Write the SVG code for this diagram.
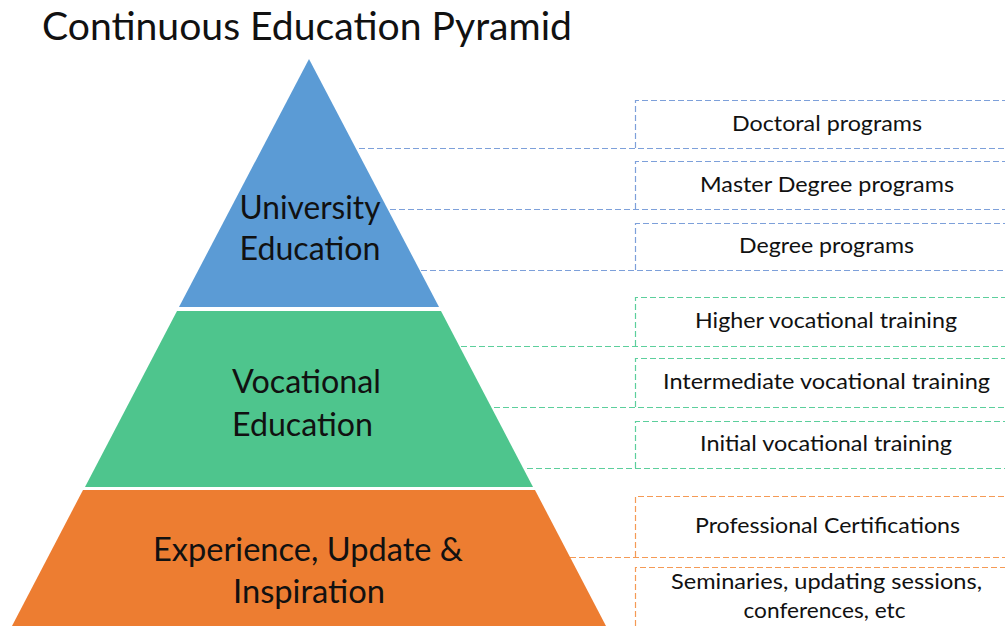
<svg xmlns="http://www.w3.org/2000/svg" width="1005" height="626" viewBox="0 0 1005 626">
<style>
text{font-family:Lato,"Liberation Sans",sans-serif;fill:#111;}
.title{font-size:38px;}
.lvl{font-size:32px;text-anchor:middle;}
.item{font-size:21.5px;text-anchor:middle;}
.d{fill:none;stroke-width:1.2;stroke-dasharray:6 3;}
.db{stroke:#7DA0DA;}
.dg{stroke:#5CCF9C;}
.do{stroke:#F59A55;}
</style>
<rect width="1005" height="626" fill="#fff"/>
<text class="title" x="42" y="40" textLength="530" lengthAdjust="spacingAndGlyphs">Continuous Education Pyramid</text>

<g id="connectors">
  <path class="d db" d="M359 148.5H1005M390 209.5H1005M421 270.5H1005"/>
  <path class="d dg" d="M461 346.5H1005M494 407.5H1005M527 468.5H1005"/>
  <path class="d do" d="M570 557.5H1005"/>
</g>

<g id="level-university">
  <polygon points="309,59 439,307 179,307" fill="#5B9BD5"/>
  <text class="lvl" x="310" y="219" textLength="141" lengthAdjust="spacingAndGlyphs">University</text>
  <text class="lvl" x="310" y="260" textLength="141" lengthAdjust="spacingAndGlyphs">Education</text>
</g>
<g id="level-vocational">
  <polygon points="177,311 441,311 533,487 85,487" fill="#4EC58D"/>
  <text class="lvl" x="306.5" y="393" textLength="149" lengthAdjust="spacingAndGlyphs">Vocational</text>
  <text class="lvl" x="302.5" y="436" textLength="141" lengthAdjust="spacingAndGlyphs">Education</text>
</g>
<g id="level-experience">
  <polygon points="83,490 535,490 606,626 12,626" fill="#ED7D31"/>
  <text class="lvl" x="308" y="561" textLength="310" lengthAdjust="spacingAndGlyphs">Experience, Update &amp;</text>
  <text class="lvl" x="309" y="603" textLength="152" lengthAdjust="spacingAndGlyphs">Inspiration</text>
</g>

<g id="item-doctoral">
  <path class="d db" d="M635.5 148V100.5H1005"/>
  <text class="item" x="827" y="131" textLength="190" lengthAdjust="spacingAndGlyphs">Doctoral programs</text>
</g>
<g id="item-master">
  <path class="d db" d="M635.5 209V161.5H1005"/>
  <text class="item" x="827" y="192" textLength="254" lengthAdjust="spacingAndGlyphs">Master Degree programs</text>
</g>
<g id="item-degree">
  <path class="d db" d="M635.5 270V223.5H1005"/>
  <text class="item" x="826.5" y="253" textLength="175" lengthAdjust="spacingAndGlyphs">Degree programs</text>
</g>
<g id="item-higher">
  <path class="d dg" d="M635.5 346V297.5H1005"/>
  <text class="item" x="826" y="328" textLength="262" lengthAdjust="spacingAndGlyphs">Higher vocational training</text>
</g>
<g id="item-intermediate">
  <path class="d dg" d="M635.5 407V358.5H1005"/>
  <text class="item" x="826.5" y="389" textLength="327" lengthAdjust="spacingAndGlyphs">Intermediate vocational training</text>
</g>
<g id="item-initial">
  <path class="d dg" d="M635.5 468V421.5H1005"/>
  <text class="item" x="826" y="451" textLength="252" lengthAdjust="spacingAndGlyphs">Initial vocational training</text>
</g>
<g id="item-professional">
  <path class="d do" d="M635.5 557V496.5H1005"/>
  <text class="item" x="827.5" y="533" textLength="265" lengthAdjust="spacingAndGlyphs">Professional Certifications</text>
</g>
<g id="item-seminaries">
  <path class="d do" d="M635.5 626V567.5H1005"/>
  <text class="item" x="826.5" y="589" textLength="311" lengthAdjust="spacingAndGlyphs">Seminaries, updating sessions,</text>
  <text class="item" x="824.5" y="618" textLength="162" lengthAdjust="spacingAndGlyphs">conferences, etc</text>
</g>
</svg>
